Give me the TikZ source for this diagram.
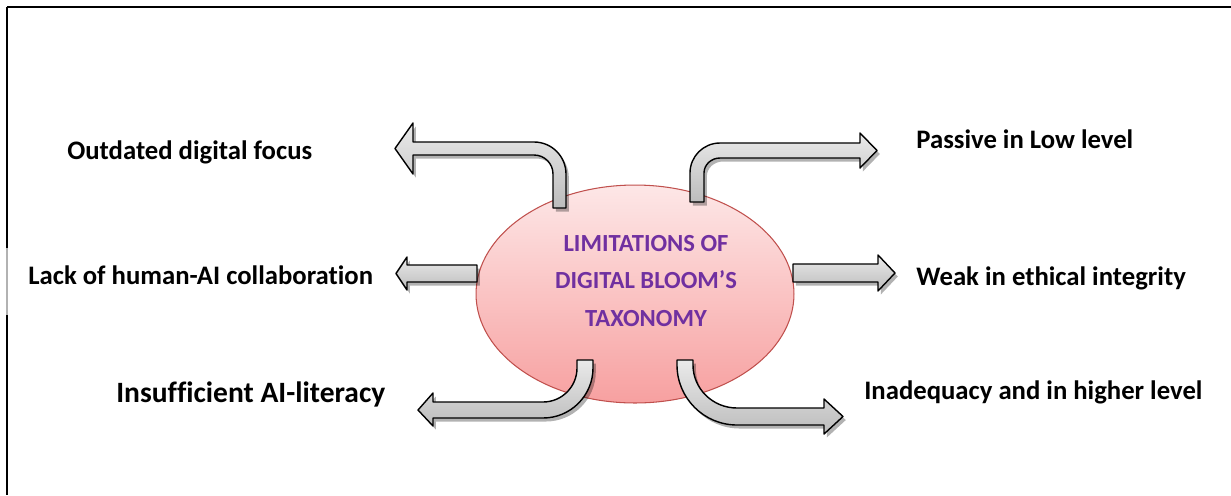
\documentclass[tikz,border=0pt]{standalone}
\usepackage{fontspec}
\setmainfont{Carlito}[Ligatures=NoCommon]
\usepackage{tikz}
\usetikzlibrary{
  shapes.geometric, shadows, positioning, calc
}

\definecolor{arrowtop}{HTML}{EAEAEA}
\definecolor{arrowbot}{HTML}{BCBCBC}
\definecolor{pinktop}{HTML}{FDE7E7}
\definecolor{pinkbot}{HTML}{F7A0A0}
\definecolor{pinkline}{HTML}{C0504D}
\definecolor{titlepurple}{HTML}{7030A0}

\begin{document}
\begin{tikzpicture}[
  x=0.02cm, y=-0.02cm,
  frame/.style={line width=0.7pt},
  core/.style={ellipse, draw=pinkline, line width=0.6pt, top color=pinktop,
    bottom color=pinkbot, minimum width=6.36cm, minimum height=4.36cm, inner sep=0pt},
  title/.style={font=\fontsize{14}{21.2}\selectfont\bfseries, text=titlepurple, align=center},
  item/.style={font=\fontsize{15.2}{18}\selectfont\bfseries, anchor=base west, inner sep=0pt},
  bigitem/.style={item, font=\fontsize{16.8}{20}\selectfont\bfseries},
  blockarrow/.style={draw=black, line width=0.8pt, line join=round,
    top color=arrowtop, bottom color=arrowbot,
    drop shadow={shadow xshift=1.6pt, shadow yshift=-2pt, opacity=0.3, fill=black}},
]
  \useasboundingbox (0,0) rectangle (1231,495);

  % Frame
  \draw[frame] (7,7) -- (1231,7);
  \draw[frame] (7,7) -- (7,248);
  \draw[frame, gray!60] (7,248) -- (7,315);
  \draw[frame] (7,315) -- (7,495);

  % Central ellipse
  \node[core] (core) at (635,294) {};
  \node[title] (title) at (646,326) [anchor=base]
    {LIMITATIONS OF\\DIGITAL BLOOM’S\\TAXONOMY};

  % Labels
  \foreach \n/\x/\y/\t in {1/67/159/Outdated digital focus,
                           2/916/148/Passive in Low level,
                           3/28/284/Lack of human-AI collaboration,
                           4/916/285/Weak in ethical integrity,
                           6/864/399/Inadequacy and in higher level} {
    \node[item] (L\n) at (\x,\y) {\t};
  }
  \node[bigitem] (L5) at (116,402) {Insufficient AI-literacy};

  % Arrow: top left
  \path[blockarrow] (553,208) -- (566,208) -- (566,174)
    .. controls (566,156.3) and (551.7,142) .. (534,142)
    -- (413,142) -- (413,123) -- (395,148.5) -- (413,174) -- (413,155)
    -- (534,155) .. controls (544.5,155) and (553,163.5) .. (553,174) -- cycle;

  % Arrow: top right
  \path[blockarrow] (690,202) -- (690,173)
    .. controls (690,156.4) and (703.4,143) .. (720,143)
    -- (860,143) -- (860,133) -- (877,150.5) -- (860,168) -- (860,158)
    -- (720,158) .. controls (711.2,158) and (704,164.7) .. (704,173)
    -- (704,202) -- cycle;

  % Arrow: middle left
  \path[blockarrow] (477,265) -- (407,265) -- (407,257) -- (396,273.5)
    -- (407,290) -- (407,282) -- (477,282) -- cycle;

  % Arrow: middle right
  \path[blockarrow] (793,264) -- (878,264) -- (878,255) -- (895,273)
    -- (878,291) -- (878,282) -- (793,282) -- cycle;

  % Arrow: bottom left
  \path[blockarrow] (577,360) -- (593,360) -- (593,368)
    .. controls (593,395.6) and (570.6,418) .. (543,418)
    -- (433,418) -- (433,426) -- (418,410) -- (433,393) -- (433,402)
    -- (543,402) .. controls (561.8,402) and (577,386.8) .. (577,368) -- cycle;

  % Arrow: bottom right
  \path[blockarrow] (677,360) -- (693,360) -- (693,365)
    .. controls (693,388.7) and (712.7,408) .. (737,408)
    -- (824,408) -- (824,399) -- (843,416.5) -- (824,434) -- (824,425)
    -- (737,425) .. controls (703.9,425) and (677,398.1) .. (677,365) -- cycle;
\end{tikzpicture}
\end{document}
